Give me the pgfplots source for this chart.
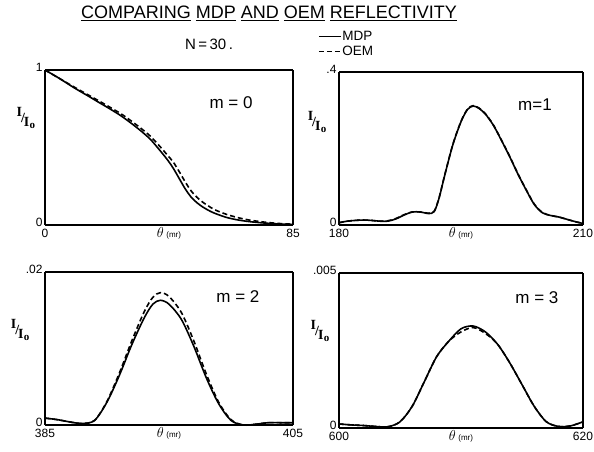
\documentclass[border=0pt]{standalone}
\usepackage{fontspec}
\setmainfont{Liberation Sans}
\newfontfamily\serifI{Liberation Serif}
\usepackage{pgfplots}
\pgfplotsset{compat=1.18}

\newcommand{\IIo}{{\serifI\bfseries\fontsize{14}{15}\selectfont\raisebox{6pt}{I}\kern-1pt\raisebox{0pt}{/}\kern-1pt\raisebox{-4pt}{I\kern0.3pt\raisebox{-2pt}{\fontsize{11}{11}\selectfont o}}}}

\pgfplotsset{
  panel/.style={
    scale only axis,
    anchor=south west,
    separate axis lines,
    axis line style={line width=1.6pt},
    every outer x axis line/.append style={line width=1.6pt},
    every outer y axis line/.append style={line width=1.6pt},
    major tick length=0pt,
    tick style={draw=none},
    scaled ticks=false,
    /pgf/number format/assume math mode=true,
    tick label style={font=\fontsize{12}{13}\selectfont},
    yticklabel style={yshift=3pt, xshift=1pt},
    xticklabel style={yshift=-1pt},
    xtick pos=bottom, ytick pos=left,
    xlabel={$\theta$\,{\fontsize{8}{9}\selectfont(mr)}},
    xlabel style={at={(axis description cs:0.5,0)}, anchor=north, yshift=1pt, font=\fontsize{15}{16}\selectfont},
    ylabel={\IIo},
    ylabel style={rotate=-90, anchor=center},
    clip=false,
  },
  mdp/.style={black, line width=1.6pt, smooth, tension=0.5},
  oem/.style={black, line width=1.6pt, dash pattern=on 5pt off 3pt, smooth, tension=0.5},
}

\begin{document}
\begin{tikzpicture}
\path[use as bounding box] (0pt,0pt) rectangle (594pt,451pt);

\node[font=\fontsize{18}{20}\selectfont, anchor=base] at (269pt,432pt)
  {\underline{COMPARING} \underline{MDP} \underline{AND} \underline{OEM} \underline{REFLECTIVITY}};
\node[font=\fontsize{15}{17}\selectfont, anchor=base] at (209pt,401pt) {N\,=\,30\,.};

% ---------- m = 0 ----------
\begin{axis}[panel, at={(45pt,226pt)}, width=248pt, height=155pt,
  xmin=0, xmax=85, ymin=0, ymax=1,
  xtick={0,85}, xticklabels={0,85}, ytick={0,1}, yticklabels={0,1},
  ylabel style={at={(axis description cs:-0.077,0.69)}}]
\addplot[mdp] coordinates {
(0,1.0) (5,0.945) (10,0.885) (15,0.83) (19,0.785) (22,0.752) (26,0.705) (30,0.65)
(33,0.605) (36,0.555) (39,0.49) (42,0.42) (44,0.365) (46.3,0.29) (48,0.235)
(50,0.182) (52,0.145) (54,0.117) (56,0.095) (58,0.077) (62,0.05) (66,0.033)
(70,0.022) (75,0.013) (80,0.007) (85,0.004)};
\addplot[oem] coordinates {
(0,1.0) (10,0.89) (19,0.795) (26,0.718) (30,0.665) (33,0.622) (36,0.575) (39,0.515)
(42,0.45) (44,0.405) (46.3,0.335) (48,0.28) (50,0.222) (52,0.18) (54,0.148)
(56,0.123) (58,0.1) (62,0.07) (66,0.048) (70,0.032) (75,0.019) (80,0.01) (85,0.005)};
\node[font=\fontsize{17}{18}\selectfont] at (rel axis cs:0.75,0.787) {m = 0};
\end{axis}

% ---------- m = 1 ----------
\begin{axis}[panel, at={(339pt,226pt)}, width=244pt, height=153pt,
  xmin=180, xmax=210, ymin=0, ymax=0.4,
  xtick={180,210}, xticklabels={180,210}, ytick={0,0.4}, yticklabels={0,.4},
  ylabel style={at={(axis description cs:-0.09,0.673)}},
  legend style={at={(rel axis cs:-0.086,1.275)}, anchor=north west, draw=none, fill=none,
    font=\fontsize{13.5}{14}\selectfont, inner sep=0pt, row sep=2pt,
    nodes={inner xsep=1pt, inner ysep=1pt}},
  legend cell align=left,
  legend image code/.code={\draw[#1, line width=1.2pt] (0pt,0pt) -- (22pt,0pt);}]
\addplot[mdp] coordinates {
(180,0.006) (181,0.010) (182,0.012) (183,0.013) (184,0.012) (185,0.010) (186,0.010)
(187,0.016) (188,0.026) (189,0.034) (190,0.034) (191,0.030) (191.7,0.035) (192.3,0.07)
(193,0.13) (194,0.21) (195,0.27) (195.8,0.302) (196.5,0.311) (197.2,0.305) (198,0.29)
(199,0.26) (200,0.22) (201,0.178) (202,0.133) (203,0.092) (204,0.054) (205,0.032)
(206,0.025) (207,0.021) (208,0.015) (209,0.009) (210,0.004)};
\addlegendentry{MDP}
\addplot[oem] coordinates {
(180,0.006) (181,0.010) (182,0.012) (183,0.013) (184,0.012) (185,0.010) (186,0.011)
(187,0.017) (188,0.027) (189,0.034) (190,0.034) (191,0.031) (191.7,0.036) (192.3,0.071)
(193,0.131) (194,0.211) (195,0.271) (195.8,0.303) (196.5,0.312) (197.2,0.306) (198,0.291)
(199,0.261) (200,0.221) (201,0.179) (202,0.134) (203,0.093) (204,0.055) (205,0.033)
(206,0.025) (207,0.021) (208,0.015) (209,0.009) (210,0.004)};
\addlegendentry{OEM}
\node[font=\fontsize{17}{18}\selectfont] at (rel axis cs:0.803,0.784) {m=1};
\end{axis}

% ---------- m = 2 ----------
\begin{axis}[panel, at={(45pt,26pt)}, width=248pt, height=153pt,
  xmin=385, xmax=405, ymin=0, ymax=0.02,
  xtick={385,405}, xticklabels={385,405}, ytick={0,0.02}, yticklabels={0,.02},
  ylabel style={at={(axis description cs:-0.10,0.62)}}]
\addplot[mdp] coordinates {
(385,0.0009) (386,0.0007) (387,0.0004) (388,0.0002) (389,0.0006) (390,0.0030)
(391,0.0065) (392,0.0105) (393,0.0140) (393.7,0.0158) (394.3,0.0163) (395,0.0158)
(396,0.0138) (397,0.0103) (398,0.0062) (399,0.0028) (400,0.0006) (401,0.0)
(402,0.0001) (403,0.0003) (404,0.0003) (405,0.0003)};
\addplot[oem] coordinates {
(385,0.0009) (386,0.0007) (387,0.0004) (388,0.0002) (389,0.0006) (390,0.0031)
(391,0.0068) (392,0.0110) (393,0.0148) (393.7,0.0167) (394.3,0.0173) (395,0.0168)
(396,0.0147) (397,0.0110) (398,0.0067) (399,0.0030) (400,0.0007) (401,0.0)
(402,0.0001) (403,0.0003) (404,0.0003) (405,0.0003)};
\node[font=\fontsize{17}{18}\selectfont] at (rel axis cs:0.778,0.837) {m = 2};
\end{axis}

% ---------- m = 3 ----------
\begin{axis}[panel, at={(339pt,23pt)}, width=244pt, height=155pt,
  xmin=600, xmax=620, ymin=0, ymax=0.005,
  xtick={600,620}, xticklabels={600,620}, ytick={0,0.005}, yticklabels={0,.005},
  ylabel style={at={(axis description cs:-0.078,0.626)}}]
\addplot[mdp] coordinates {
(600,0.00013) (601,0.0001) (602,0.00008) (603,0.00005) (604,0.00004) (605,0.0002)
(606,0.0007) (607,0.0015) (608,0.0023) (609,0.0028) (610,0.0032) (611,0.00329)
(612,0.0031) (613,0.0027) (614,0.0021) (615,0.0014) (616,0.0007) (617,0.0002)
(618,0.00005) (619,0.00007) (620,0.0002)};
\addplot[oem] coordinates {
(600,0.00013) (601,0.0001) (602,0.00008) (603,0.00005) (604,0.00004) (605,0.0002)
(606,0.0007) (607,0.0015) (608,0.0023) (609,0.0028) (610,0.0031) (611,0.00324)
(612,0.00305) (613,0.0027) (614,0.0021) (615,0.0014) (616,0.0007) (617,0.0002)
(618,0.00005) (619,0.00007) (620,0.0002)};
\node[font=\fontsize{17}{18}\selectfont] at (rel axis cs:0.811,0.839) {m = 3};
\end{axis}
\end{tikzpicture}
\end{document}
